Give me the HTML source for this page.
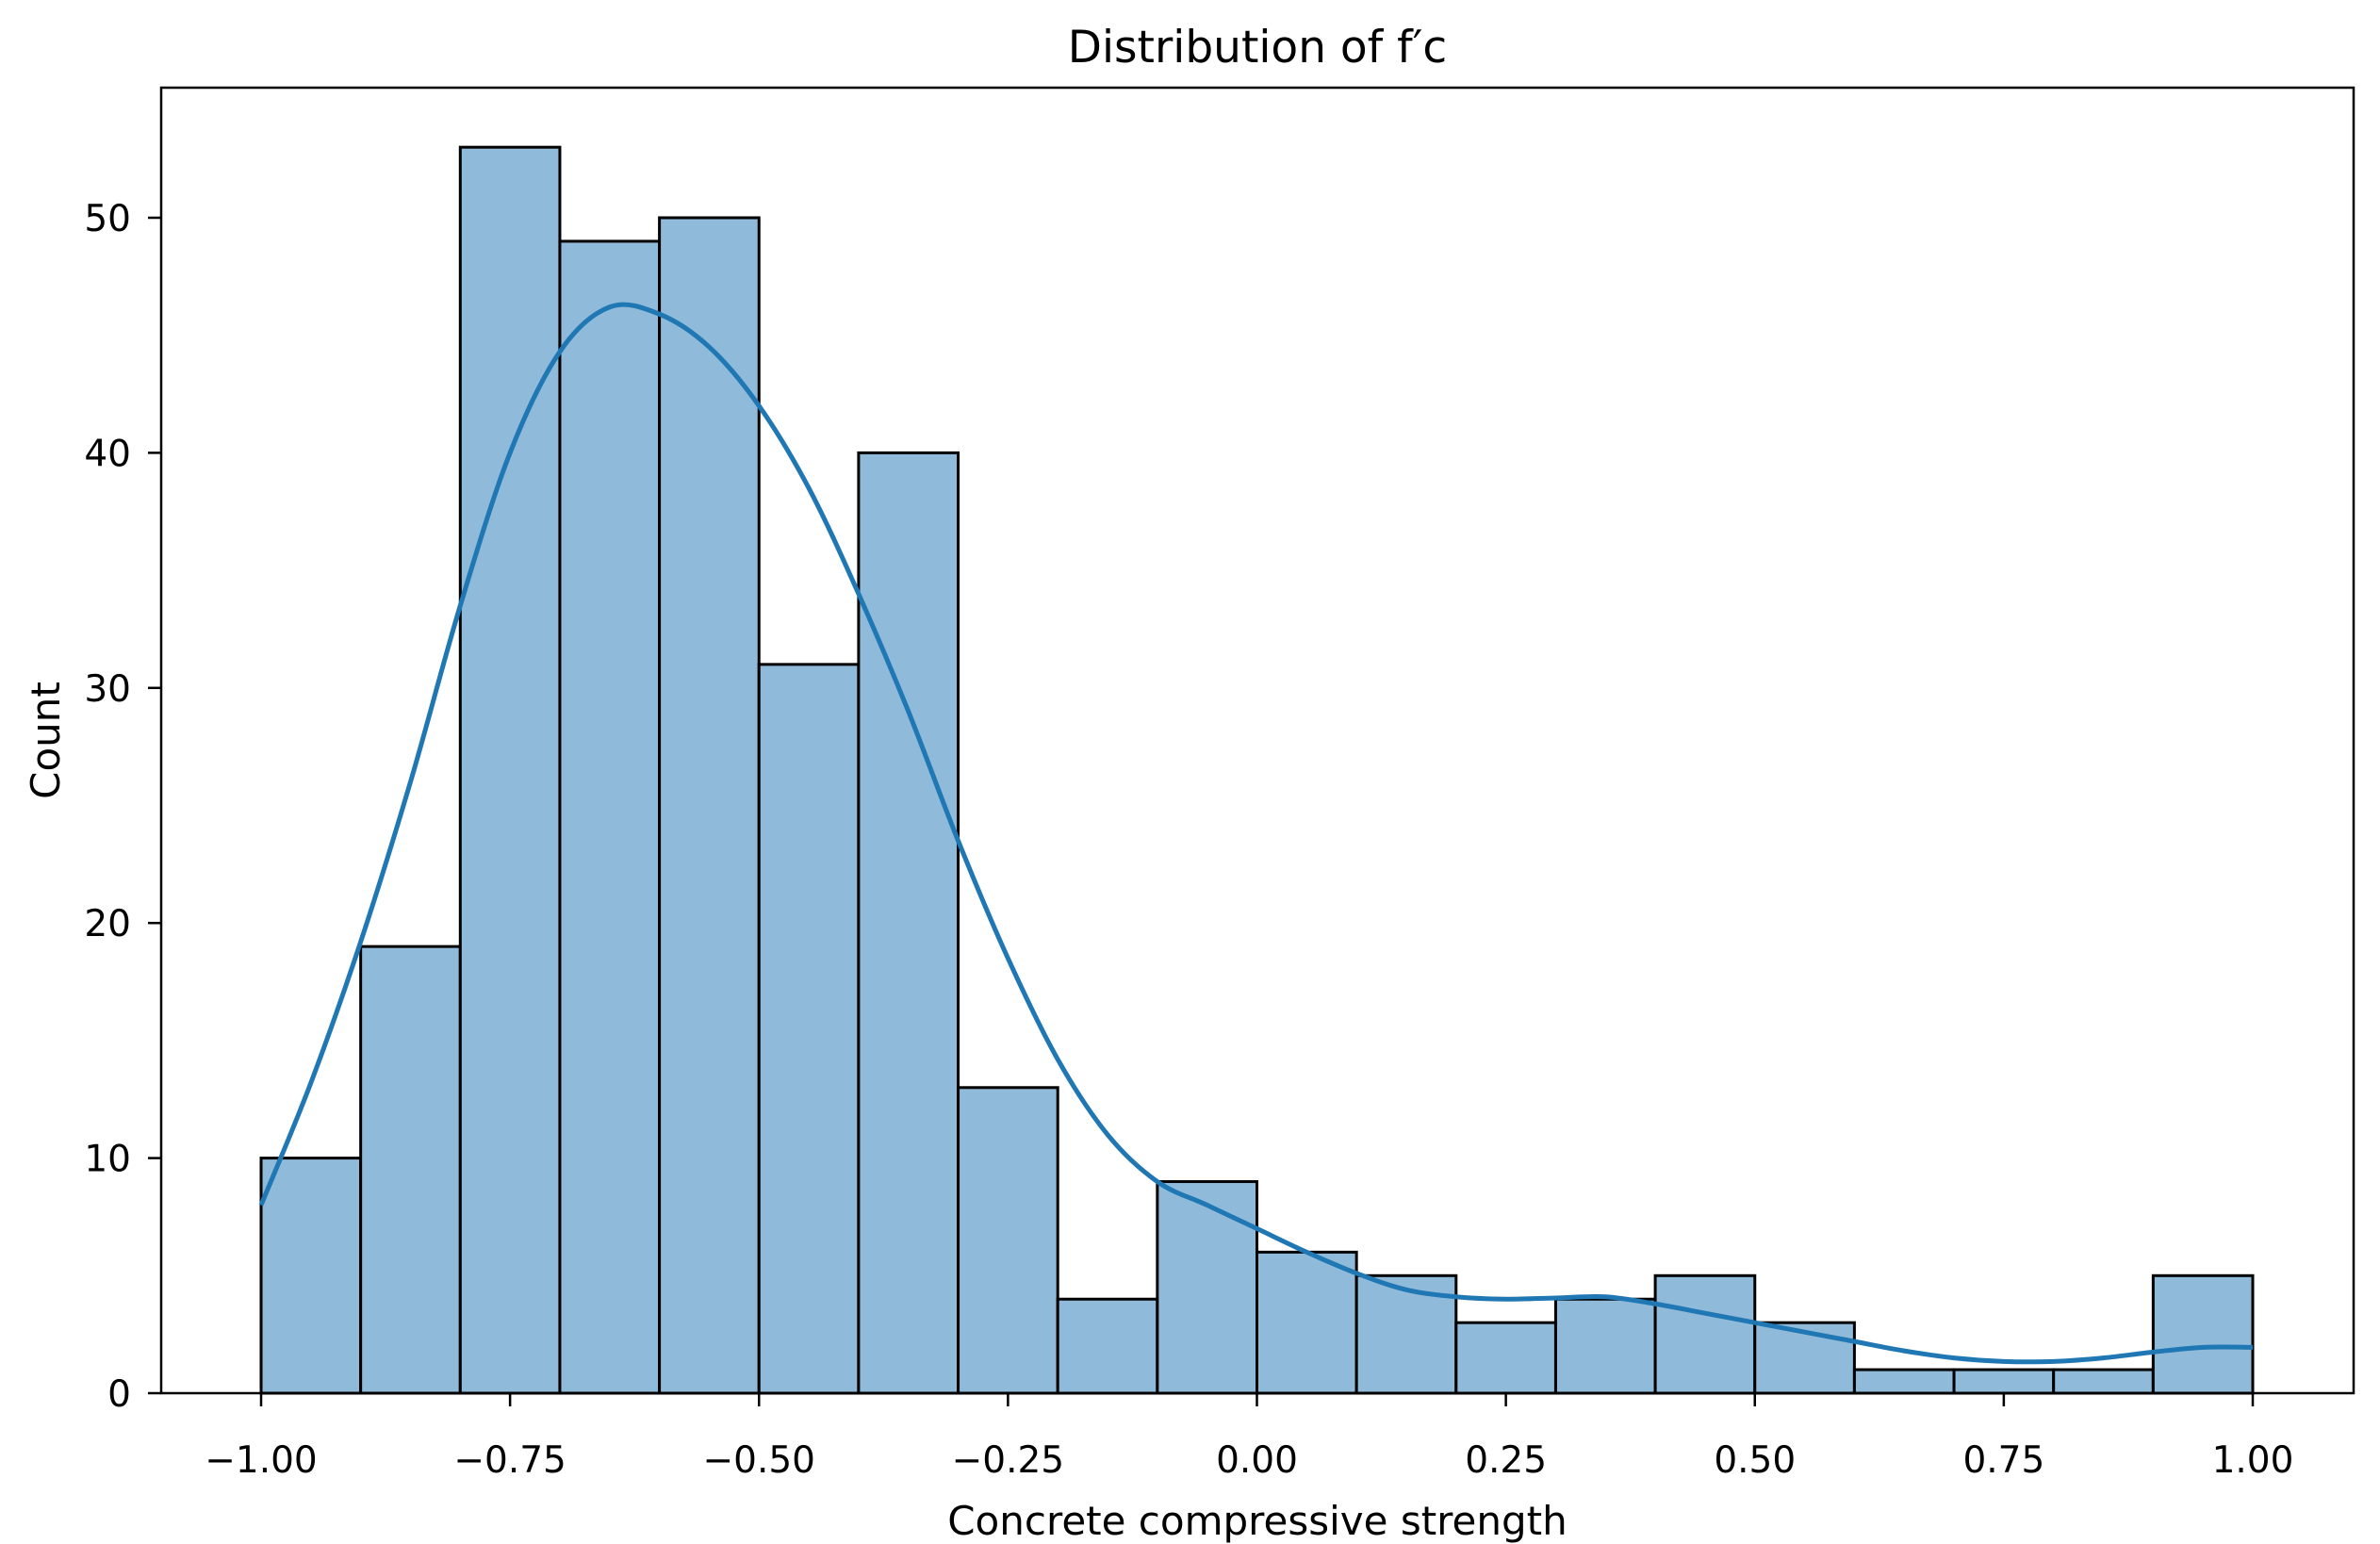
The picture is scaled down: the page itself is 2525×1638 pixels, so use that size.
<!DOCTYPE html>
<html><head><meta charset="utf-8"><style>
html,body{margin:0;padding:0;background:#fff;}
svg{display:block;font-family:"DejaVu Sans","Liberation Sans",sans-serif;}
</style></head><body>
<svg id="chart" width="2525" height="1638" viewBox="0 0 2525 1638" xmlns="http://www.w3.org/2000/svg"></svg>
<script>
const binEdgesStart = [-1.0,-0.9,-0.8,-0.7,-0.6,-0.5,-0.4,-0.3,-0.2,-0.1,0.0,0.1,0.2,0.3,0.4,0.5,0.6,0.7,0.8,0.9];
const binWidth = 0.1;
const counts = [10,19,53,49,50,31,40,13,4,9,6,5,3,4,5,3,1,1,1,5];
const kdeX = [-1.0,-0.95,-0.9,-0.85,-0.8,-0.75,-0.7,-0.65,-0.6,-0.55,-0.5,-0.45,-0.4,-0.35,-0.3,-0.25,-0.2,-0.15,-0.1,-0.05,0.0,0.05,0.1,0.15,0.2,0.25,0.3,0.35,0.4,0.45,0.5,0.55,0.6,0.65,0.7,0.75,0.8,0.85,0.9,0.95,1.0];
const kdeY = [8,13.2,19.2,26,33.5,40,44.3,46.2,45.9,44.5,42,38.5,34,29,23.5,18.5,14.2,11,9,8,7,6,5.1,4.4,4.1,4.0,4.05,4.1,3.8,3.4,3.0,2.6,2.2,1.8,1.5,1.35,1.35,1.5,1.75,1.95,1.95];
const xTicks = [-1.0,-0.75,-0.5,-0.25,0.0,0.25,0.5,0.75,1.0];
const xTickLabels = ["\u22121.00","\u22120.75","\u22120.50","\u22120.25","0.00","0.25","0.50","0.75","1.00"];
const yTicks = [0,10,20,30,40,50];
const yTickLabels = ["0","10","20","30","40","50"];

const L=171,R=2497,T=93,B=1478;
const X = v => 277 + (v + 1) * 1056.5;
const Y = v => B - v * 24.94;
const NS="http://www.w3.org/2000/svg";
const svg=document.getElementById('chart');
function mk(tag,attrs,parent){const e=document.createElementNS(NS,tag);for(const k in attrs)e.setAttribute(k,attrs[k]);(parent||svg).appendChild(e);return e;}

const bars=mk('g',{});


counts.forEach((c,i)=>{
  const x0=X(binEdgesStart[i]),x1=X(binEdgesStart[i]+binWidth);
  const r=mk('rect',{x:x0,y:Y(c),width:x1-x0,height:Y(0)-Y(c),fill:'#8fbad9',stroke:'#000','stroke-width':3},bars);
  
  
});

const pts=kdeX.map((v,i)=>[X(v),Y(kdeY[i])]);
let d=`M${pts[0][0]},${pts[0][1]}`;
for(let i=0;i<pts.length-1;i++){
  const p0=pts[Math.max(0,i-1)],p1=pts[i],p2=pts[i+1],p3=pts[Math.min(pts.length-1,i+2)];
  const c1=[p1[0]+(p2[0]-p0[0])/6,p1[1]+(p2[1]-p0[1])/6];
  const c2=[p2[0]-(p3[0]-p1[0])/6,p2[1]-(p3[1]-p1[1])/6];
  d+=` C${c1[0]},${c1[1]} ${c2[0]},${c2[1]} ${p2[0]},${p2[1]}`;
}
const kde=mk('path',{d:d,fill:'none',stroke:'#1f77b4','stroke-width':5});



const frame=mk('rect',{x:L,y:T,width:R-L,height:B-T,fill:'none',stroke:'#000','stroke-width':2.5});



xTicks.forEach((v,i)=>{
  const t=mk('line',{x1:X(v),x2:X(v),y1:B,y2:B+14,stroke:'#000','stroke-width':2.5});
  
  
  const l=mk('text',{x:X(v),y:B+84,'text-anchor':'middle','font-size':39,fill:'#000'});
  l.textContent=xTickLabels[i];
  
  
});
yTicks.forEach((v,i)=>{
  const t=mk('line',{x1:L-14,x2:L,y1:Y(v),y2:Y(v),stroke:'#000','stroke-width':2.5});
  
  
  const l=mk('text',{x:L-32,y:Y(v)+14,'text-anchor':'end','font-size':39,fill:'#000'});
  l.textContent=yTickLabels[i];
  
  
});

const title=mk('text',{x:(L+R)/2,y:66,'text-anchor':'middle','font-size':47,fill:'#000'});
title.textContent='Distribution of f′c';



const xt=mk('text',{x:(L+R)/2,y:1628,'text-anchor':'middle','font-size':42,fill:'#000'});
xt.textContent='Concrete compressive strength';



const yt=mk('text',{x:0,y:0,'text-anchor':'middle','font-size':42,fill:'#000',transform:`translate(63,${(T+B)/2}) rotate(-90)`});
yt.textContent='Count';


</script>
</body></html>
